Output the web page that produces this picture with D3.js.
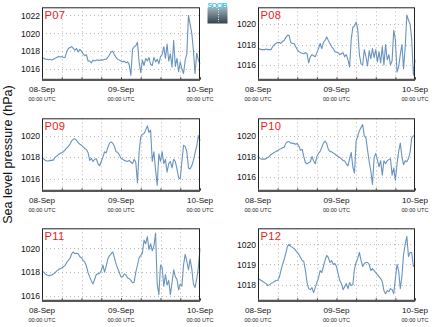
<!DOCTYPE html>
<html><head><meta charset="utf-8">
<script src="https://cdn.jsdelivr.net/npm/d3@7"></script>
<style>
body{margin:0;background:#fff}
svg{display:block}
text{font-family:"Liberation Sans",Arial,Helvetica,sans-serif}
</style>
</head><body>
<svg id="chart" width="434" height="327"></svg>
<script>
// Sea level pressure (hPa), half-hourly samples from 08-Sep 00:00 UTC to 10-Sep 00:00 UTC
const stepHours = 0.5;
const dayTicks = [0, 24, 48];
const dayLabels = ["08-Sep", "09-Sep", "10-Sep"];
const timeLabel = "00:00 UTC";
const axisTitle = "Sea level pressure (hPa)";
const logoText = "SOCIB";

const stations = ["P07", "P08", "P09", "P10", "P11", "P12"];

const p07 = [1017.3,1017.2,1017.1,1017.1,1017.05,1017.1,1017.0,1017.1,1017.2,1017.3,1017.4,1017.35,1017.4,1017.3,1017.3,1017.9,
  1018.3,1018.4,1018.5,1018.3,1018.1,1018.3,1017.9,1018.2,1018.0,1017.7,1017.5,1017.6,1016.9,1016.9,1016.7,1017.0,
  1016.9,1017.0,1017.0,1016.95,1017.05,1017.0,1017.1,1017.1,1017.3,1017.6,1017.9,1018.0,1017.6,1017.3,1017.1,1017.0,
  1016.9,1016.8,1016.9,1016.7,1016.8,1016.5,1015.3,1018.2,1018.5,1018.6,1019.0,1016.8,1015.6,1017.0,1016.4,1017.2,
  1016.9,1017.3,1016.5,1016.4,1017.3,1016.8,1017.1,1016.6,1017.4,1017.6,1018.5,1017.2,1018.8,1016.9,1017.7,1016.2,
  1019.2,1016.3,1017.2,1015.7,1016.8,1016.0,1015.5,1017.0,1017.7,1022.0,1021.0,1020.0,1018.1,1015.5,1017.8,1017.0,1016.6];

const p08 = [1017.7,1017.55,1017.5,1017.5,1017.5,1017.55,1017.5,1017.5,1017.5,1017.8,1018.0,1018.1,1018.2,1018.2,1018.1,1018.3,
  1018.4,1018.7,1018.9,1018.9,1018.2,1018.1,1018.1,1017.8,1017.5,1017.3,1017.2,1017.15,1017.1,1017.2,1017.1,1016.2,
  1016.8,1017.0,1016.9,1016.8,1017.2,1017.6,1018.1,1017.6,1018.2,1018.4,1018.75,1018.4,1018.1,1017.8,1017.6,1017.3,
  1017.25,1017.2,1017.0,1017.1,1017.2,1016.8,1017.0,1016.5,1015.8,1018.5,1019.7,1019.8,1020.2,1019.5,1017.0,1016.1,
  1016.0,1017.5,1016.8,1015.9,1017.4,1016.6,1017.6,1016.7,1017.5,1016.3,1017.3,1016.2,1017.8,1016.0,1018.0,1016.5,
  1017.0,1016.0,1016.4,1019.4,1018.5,1015.3,1015.8,1017.0,1018.0,1015.6,1017.7,1020.9,1020.4,1020.0,1018.5,1015.0,1016.5];

const p09 = [1018.0,1017.85,1017.7,1017.65,1017.65,1017.7,1017.7,1017.75,1018.0,1018.1,1018.25,1018.35,1018.4,1018.5,1018.65,1018.85,
  1019.0,1019.2,1019.5,1019.65,1019.7,1019.55,1019.35,1019.2,1019.1,1018.95,1018.8,1018.7,1018.4,1017.7,1017.9,1017.6,
  1017.8,1017.85,1017.4,1017.2,1017.6,1018.0,1018.5,1018.4,1018.9,1019.3,1019.4,1019.3,1019.0,1018.5,1018.45,1018.2,
  1017.9,1017.8,1017.7,1017.65,1017.6,1017.7,1017.55,1017.4,1017.8,1017.5,1015.6,1018.5,1019.9,1020.1,1020.2,1020.5,
  1020.9,1020.3,1020.5,1017.6,1018.5,1016.8,1015.4,1018.3,1017.6,1018.5,1017.4,1017.8,1016.6,1017.4,1017.6,1017.0,
  1017.8,1017.6,1016.9,1016.1,1016.0,1017.6,1019.1,1019.0,1018.5,1017.0,1016.9,1017.2,1017.7,1018.4,1019.0,1020.0,1019.5];

const p10 = [1018.1,1017.85,1017.75,1017.75,1017.75,1017.8,1017.9,1018.05,1018.2,1018.3,1018.4,1018.5,1018.55,1018.7,1018.75,1018.85,
  1018.9,1019.3,1019.4,1019.45,1019.3,1019.3,1019.25,1019.2,1019.25,1019.0,1018.6,1018.7,1018.0,1017.4,1017.3,1017.4,
  1017.5,1018.0,1017.6,1017.3,1018.0,1018.3,1018.5,1018.9,1019.3,1019.5,1019.25,1018.7,1018.5,1018.45,1018.35,1018.25,
  1018.1,1018.0,1017.9,1017.8,1017.6,1017.6,1017.3,1017.1,1017.8,1018.4,1017.0,1016.4,1019.5,1020.0,1020.5,1020.8,
  1021.1,1020.0,1019.8,1018.6,1017.5,1016.6,1015.3,1017.9,1018.3,1017.7,1017.0,1017.6,1016.2,1017.6,1017.3,1017.6,
  1017.7,1017.8,1016.2,1016.9,1015.7,1017.3,1018.5,1019.3,1018.0,1017.2,1017.6,1017.5,1017.8,1018.4,1019.8,1020.0,1020.0];

const p11 = [1018.1,1018.0,1017.85,1017.75,1017.7,1017.72,1017.75,1017.85,1017.95,1018.1,1018.2,1018.3,1018.35,1018.45,1018.55,1018.8,
  1019.0,1019.15,1019.55,1019.7,1019.55,1019.6,1019.55,1019.3,1019.2,1019.0,1018.85,1018.5,1017.95,1017.6,1017.25,1017.0,
  1017.4,1017.8,1017.85,1017.9,1018.1,1018.6,1018.0,1018.5,1019.1,1019.4,1019.55,1019.7,1019.2,1018.7,1018.3,1017.95,
  1017.6,1017.6,1017.85,1017.75,1017.5,1017.45,1017.3,1017.1,1017.15,1018.0,1018.6,1019.2,1019.4,1019.6,1020.7,1020.4,
  1021.0,1019.9,1020.4,1019.8,1020.2,1021.3,1017.0,1016.1,1018.6,1018.4,1016.8,1017.8,1016.9,1017.3,1016.1,1017.1,
  1018.2,1017.6,1017.4,1016.5,1017.0,1016.8,1018.6,1019.5,1018.9,1018.2,1019.1,1018.3,1017.0,1016.7,1017.4,1018.4,1020.0];

const p12 = [1018.33,1018.25,1018.2,1018.15,1018.1,1018.05,1017.95,1018.0,1018.05,1018.1,1018.15,1018.2,1018.22,1018.35,1018.7,1019.0,
  1019.25,1019.55,1019.9,1020.0,1019.9,1019.85,1019.8,1019.7,1019.6,1019.5,1019.35,1019.2,1019.15,1018.7,1018.1,1017.8,
  1017.75,1017.85,1017.6,1017.85,1018.1,1018.35,1018.7,1018.6,1018.9,1019.2,1019.45,1019.35,1019.1,1019.2,1019.0,1019.05,
  1018.9,1018.55,1018.2,1018.05,1017.75,1017.9,1018.05,1017.8,1018.1,1017.95,1018.0,1018.8,1019.1,1019.3,1019.6,1019.2,
  1018.9,1019.05,1019.1,1019.1,1019.0,1018.7,1018.8,1018.7,1018.6,1018.5,1018.4,1018.3,1018.15,1017.7,1017.55,1017.7,
  1017.65,1017.8,1017.75,1017.55,1018.3,1019.0,1018.7,1017.8,1018.4,1019.5,1020.0,1020.4,1019.4,1019.6,1019.6,1018.9,1019.0];

const seriesValues = [p07, p08, p09, p10, p11, p12];

// y-axis extent and tick values for each station
const yExtents = [[1014.7, 1022.9], [1014.45, 1021.65], [1014.8, 1021.6], [1014.6, 1021.7], [1015.5, 1021.7], [1017.15, 1020.8]];
const yTickValues = [[1016, 1018, 1020, 1022], [1016, 1018, 1020], [1016, 1018, 1020], [1016, 1018, 1020], [1016, 1018, 1020], [1018, 1019, 1020]];

// ---- layout ----
const colX = [[42, 200], [258, 415]];
const rowY = [7.3, 118.3, 228.3];
const plotH = 73.4;
const lineColor = "#6893be";
const svg = d3.select("#chart");

stations.forEach((name, k) => {
  const col = k % 2, row = Math.floor(k / 2);
  const [x0, x1] = colX[col];
  const top = rowY[row], bottom = top + plotH;
  const values = seriesValues[k];

  const x = d3.scaleLinear().domain([0, 48]).range([x0, x1]);
  const y = d3.scaleLinear().domain(yExtents[k]).range([bottom, top]);

  const g = svg.append("g");

  // dotted grid: every 6 hours and at each pressure tick
  g.append("g").selectAll("line").data(d3.range(6, 48, 6)).join("line")
    .attr("x1", d => Math.round(x(d)) + 0.5).attr("x2", d => Math.round(x(d)) + 0.5)
    .attr("y1", top).attr("y2", bottom)
    .attr("stroke", "#b8b8b8").attr("stroke-width", 1).attr("stroke-dasharray", "1,3");
  g.append("g").selectAll("line").data(yTickValues[k]).join("line")
    .attr("x1", x0).attr("x2", x1)
    .attr("y1", d => Math.round(y(d)) + 0.5).attr("y2", d => Math.round(y(d)) + 0.5)
    .attr("stroke", "#b8b8b8").attr("stroke-width", 1).attr("stroke-dasharray", "1,3");

  // pressure series
  const line = d3.line()
    .x((d, i) => x(i * stepHours))
    .y(d => y(d));
  g.append("path").datum(values)
    .attr("d", line)
    .attr("fill", "none")
    .attr("stroke", lineColor)
    .attr("stroke-width", 1.1)
    .attr("stroke-linejoin", "round");

  // frame
  g.append("rect")
    .attr("x", x0 + 0.5).attr("y", top + 0.5)
    .attr("width", x1 - x0 - 1).attr("height", plotH - 1)
    .attr("fill", "none").attr("stroke", "#222").attr("stroke-width", 1);

  // y axis labels
  const yAxis = d3.axisLeft(y).tickValues(yTickValues[k]).tickSize(0).tickPadding(2).tickFormat(d3.format("d"));
  const ya = g.append("g").attr("transform", `translate(${x0},0)`).call(yAxis);
  ya.select(".domain").remove();
  ya.selectAll("text").attr("font-size", 8.6).attr("fill", "#111")
    .style("font-family", '"Liberation Sans",Arial,sans-serif');

  // thick time axis along the bottom with 6-hourly ticks
  const xAxis = d3.axisBottom(x).tickValues(d3.range(0, 49, 6)).tickSize(-2.5).tickFormat("");
  const xa = g.append("g").attr("transform", `translate(0,${bottom - 1})`).call(xAxis);
  xa.select(".domain").attr("stroke", "#555").attr("stroke-width", 2).attr("d", `M${x0},0H${x1}`);
  xa.selectAll(".tick line").attr("stroke", "#444");

  // date labels
  const lab = g.append("g").selectAll("g").data(dayTicks).join("g")
    .attr("transform", d => `translate(${x(d)},0)`);
  lab.append("text").attr("y", bottom + 11.3).attr("text-anchor", "middle")
    .attr("font-size", 8.1).attr("fill", "#111")
    .text((d, i) => dayLabels[i]);
  lab.append("text").attr("y", bottom + 20.5).attr("text-anchor", "middle")
    .attr("font-size", 5.6).attr("fill", "#222")
    .text(timeLabel);

  // station name
  g.append("text").attr("x", x0 + 2.5).attr("y", top + 11.8)
    .attr("font-size", 11.2).attr("fill", "#ee1c1c").attr("letter-spacing", 0.3)
    .text(name);
});

// shared axis title
svg.append("text")
  .attr("transform", "translate(12.3,154.5) rotate(-90)")
  .attr("text-anchor", "middle")
  .attr("font-size", 12.6).attr("fill", "#111")
  .text(axisTitle);

// small logo badge
const defs = svg.append("defs");
const grad = defs.append("linearGradient").attr("id", "badge").attr("x1", 0).attr("y1", 0).attr("x2", 0).attr("y2", 1);
grad.append("stop").attr("offset", "0%").attr("stop-color", "#9fb3bd");
grad.append("stop").attr("offset", "100%").attr("stop-color", "#34424e");
const logo = svg.append("g");
logo.append("rect").attr("x", 207.5).attr("y", 7.5).attr("width", 20).attr("height", 16).attr("fill", "url(#badge)");
logo.append("line").attr("x1", 218.5).attr("x2", 218.5).attr("y1", 9).attr("y2", 22)
  .attr("stroke", "#e8f4f8").attr("stroke-width", 1).attr("stroke-dasharray", "1,1.5");
logo.append("text").attr("x", 217.5).attr("y", 7.5).attr("text-anchor", "middle")
  .attr("font-size", 7.4).attr("font-weight", "bold").attr("fill", "#4cc3dc").attr("textLength", 20)
  .text(logoText);
</script>
</body></html>
